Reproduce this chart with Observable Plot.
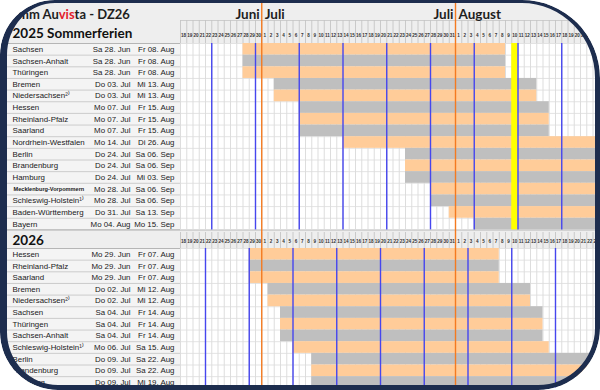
<!DOCTYPE html>
<html><head><meta charset="utf-8">
<script src="https://cdn.jsdelivr.net/npm/d3@7"></script>
<script src="https://cdn.jsdelivr.net/npm/@observablehq/plot@0.6"></script>
<style>
html,body{margin:0;padding:0;background:#fff;}
#wrap{position:relative;width:600px;height:390px;overflow:hidden;border-radius:55px 78px 62px 58px;background:#fff;}
#frame{position:absolute;left:0;top:0;width:600px;height:390px;box-sizing:border-box;border-style:solid;border-color:#1d2d4e;border-width:3px 5px 5px 7px;border-radius:55px 78px 62px 58px;pointer-events:none;}
#title{position:absolute;left:18px;top:7px;font:bold 13px/14px Lato, sans-serif;color:#1e1e1e;white-space:nowrap;}
#title .r{color:#e3212b;}
svg{display:block;}
</style></head><body>
<div id="wrap"><div id="chart"></div><div id="title">mm Au<span class="r">vis</span>ta - DZ26</div><div id="frame"></div></div>
<script>
// ---------- data ----------
const states2025 = ["Sachsen","Sachsen-Anhalt","Thüringen","Bremen","Niedersachsen²⁾","Hessen","Rheinland-Pfalz","Saarland","Nordrhein-Westfalen","Berlin","Brandenburg","Hamburg","Mecklenburg-Vorpommern","Schleswig-Holstein¹⁾","Baden-Württemberg","Bayern"];
const start2025 = ["2025-06-28","2025-06-28","2025-06-28","2025-07-03","2025-07-03","2025-07-07","2025-07-07","2025-07-07","2025-07-14","2025-07-24","2025-07-24","2025-07-24","2025-07-28","2025-07-28","2025-07-31","2025-08-04"];
const end2025 = ["2025-08-08","2025-08-08","2025-08-08","2025-08-13","2025-08-13","2025-08-15","2025-08-15","2025-08-15","2025-08-26","2025-09-06","2025-09-06","2025-09-03","2025-09-06","2025-09-06","2025-09-13","2025-09-15"];
const states2026 = ["Hessen","Rheinland-Pfalz","Saarland","Bremen","Niedersachsen²⁾","Sachsen","Thüringen","Sachsen-Anhalt","Schleswig-Holstein¹⁾","Berlin","Brandenburg","Hamburg"];
const start2026 = ["2026-06-29","2026-06-29","2026-06-29","2026-07-02","2026-07-02","2026-07-04","2026-07-04","2026-07-04","2026-07-06","2026-07-09","2026-07-09","2026-07-09"];
const end2026 = ["2026-08-07","2026-08-07","2026-08-07","2026-08-12","2026-08-12","2026-08-14","2026-08-14","2026-08-14","2026-08-15","2026-08-22","2026-08-22","2026-08-19"];
const mondays2025 = ["2025-06-23","2025-06-30","2025-07-07","2025-07-14","2025-07-21","2025-07-28","2025-08-04","2025-08-11","2025-08-18"];
const mondays2026 = ["2026-06-22","2026-06-29","2026-07-06","2026-07-13","2026-07-20","2026-07-27","2026-08-03","2026-08-10","2026-08-17"];
const monthStarts = ["2025-07-01","2025-08-01"];
const monthBefore = ["Juni","Juli"];
const monthAfter = ["Juli","August"];
const today2025 = "2025-08-10";
const axisFirst = "2025-06-18", axisLast = "2025-08-23";
const weekdayNames = ["So","Mo","Di","Mi","Do","Fr","Sa"];
const monthNames = ["Jan","Feb","Mär","Apr","Mai","Jun","Jul","Aug","Sep","Okt","Nov","Dez"];
const title2025 = "2025 Sommerferien", title2026 = "2026";
const smallNames = ["Mecklenburg-Vorpommern"];

// ---------- helpers ----------
const toDate = s => new Date(s + "T00:00:00Z");
const sday = s => { const d = toDate(s); return Math.round((d - Date.UTC(d.getUTCFullYear(), 5, 1)) / 864e5) + 1; };
const fmt = s => { const d = toDate(s); return weekdayNames[d.getUTCDay()] + " " + String(d.getUTCDate()).padStart(2, "0") + ". " + monthNames[d.getUTCMonth()]; };
const dom = v => { const d = new Date(Date.UTC(2025, 5, 1) + (v - 1) * 864e5); return d.getUTCDate(); };

// ---------- layout ----------
const W = 600, H = 390, ROWH = 11.65;
const py = px => px / ROWH;
const YMAX = py(H);
const HDR25 = py(20), TOP25 = py(43);
const END25 = TOP25 + states2025.length;
const HDR26 = END25, HDR26L = py(232), TOP26 = py(248);
const firstDay = sday(axisFirst), lastDay = sday(axisLast);
const PXDAY = 6.25, X0 = 180;

const days = d3.range(firstDay, lastDay + 2);
const rows = [];
states2025.forEach((s, i) => rows.push({state: s, s: start2025[i], e: end2025[i], i, top: TOP25 + i}));
states2026.forEach((s, i) => rows.push({state: s, s: start2026[i], e: end2026[i], i, top: TOP26 + i}));
rows.forEach(r => { r.x1 = sday(r.s); r.x2 = sday(r.e) + 1; r.y1 = r.top; r.y2 = r.top + 1; r.ym = r.top + 0.5;
  r.fill = r.i % 2 === 0 ? "#ffcc99" : "#bfbfbf"; r.sl = fmt(r.s); r.el = fmt(r.e); r.small = smallNames.includes(r.state); });

const rowEdges = [];
for (let i = 0; i <= states2025.length; i++) rowEdges.push(TOP25 + i);
for (let i = 0; i <= states2026.length; i++) rowEdges.push(TOP26 + i);

const sections = [{y1: TOP25, y2: END25}, {y1: TOP26, y2: YMAX}];
const headers = [{y1: 0, y2: TOP25}, {y1: HDR26, y2: TOP26}];
const dayGrid = [];
days.forEach(v => {
  dayGrid.push({v, y1: TOP25, y2: END25, c: "#d9d9d9"});
  dayGrid.push({v, y1: TOP26, y2: YMAX, c: "#d9d9d9"});
  dayGrid.push({v, y1: HDR25, y2: TOP25, c: "#c4c4c4"});
  dayGrid.push({v, y1: HDR26L, y2: TOP26, c: "#c4c4c4"});
});
const dayLabels = [];
d3.range(firstDay, lastDay + 1).forEach(v => {
  dayLabels.push({v, t: String(dom(v)), y: py(35.5)});
  dayLabels.push({v, t: String(dom(v)), y: py(241)});
});
const mondayRules = [
  ...mondays2025.map(d => ({v: sday(d), y1: TOP25, y2: END25})),
  ...mondays2026.map(d => ({v: sday(d), y1: TOP26, y2: YMAX}))
];
const months = monthStarts.map((d, i) => ({v: sday(d), before: monthBefore[i], after: monthAfter[i]}));
const todayBand = [{x1: sday(today2025), x2: sday(today2025) + 1, y1: TOP25, y2: END25}];

const gx1 = () => firstDay, gx2 = () => lastDay + 1;
const tableFont = "Liberation Sans, Arial, sans-serif";

const chart = Plot.plot({
  width: W, height: H, margin: 0,
  x: {type: "linear", domain: [firstDay, lastDay + 1], range: [X0, X0 + (lastDay + 1 - firstDay) * PXDAY], axis: null},
  y: {type: "linear", domain: [0, YMAX], range: [0, H], axis: null},
  style: {background: "transparent", fontFamily: tableFont, overflow: "hidden"},
  marks: [
    Plot.rect([{y1: 0, y2: YMAX}], {y1: "y1", y2: "y2", fill: "#f4f4f4"}),
    Plot.rect(headers, {y1: "y1", y2: "y2", fill: "#eeeeee"}),
    Plot.ruleY(rowEdges, {stroke: "#c2c2c2", strokeWidth: 0.8}),
    Plot.ruleY([HDR26, TOP26, TOP25], {stroke: "#b5b5b5", strokeWidth: 1}),
    Plot.rect(sections, {x1: gx1, x2: gx2, y1: "y1", y2: "y2", fill: "white"}),
    Plot.ruleX(dayGrid, {x: "v", y1: "y1", y2: "y2", stroke: "c", strokeWidth: 0.9}),
    Plot.ruleY(rowEdges, {x1: gx1, x2: gx2, stroke: "#dcdcdc", strokeWidth: 0.8}),
    Plot.ruleY([HDR25], {x1: gx1, x2: gx2, stroke: "#c4c4c4", strokeWidth: 0.8}),
    Plot.rect(rows, {x1: "x1", x2: "x2", y1: "y1", y2: "y2", fill: "fill"}),
    Plot.rect(todayBand, {x1: "x1", x2: "x2", y1: "y1", y2: "y2", fill: "#ffff00"}),
    Plot.ruleX(mondayRules, {x: "v", y1: "y1", y2: "y2", stroke: "#4646ee", strokeWidth: 1.4}),
    Plot.ruleX(months, {x: "v", y1: () => 0, y2: () => YMAX, stroke: "#f47a20", strokeWidth: 1.4}),
    Plot.text(dayLabels, {x: d => d.v + 0.5, y: "y", text: "t", fontSize: 4.6, fontWeight: "bold", fill: "#333"}),
    Plot.text(months, {x: "v", y: () => py(14), text: "before", textAnchor: "end", dx: -2, fontSize: 13.5, fontWeight: "bold", fontFamily: "Lato, sans-serif", fill: "#1e1e1e"}),
    Plot.text(months, {x: "v", y: () => py(14), text: "after", textAnchor: "start", dx: 3, fontSize: 13.5, fontWeight: "bold", fontFamily: "Lato, sans-serif", fill: "#1e1e1e"}),
    Plot.text([title2025], {frameAnchor: "left", dx: 12, y: () => py(33.5), text: d => d, textAnchor: "start", fontSize: 13.5, fontWeight: "bold", fontFamily: "Lato, sans-serif", fill: "#111"}),
    Plot.text([title2026], {frameAnchor: "left", dx: 12, y: () => py(240), text: d => d, textAnchor: "start", fontSize: 13.5, fontWeight: "bold", fontFamily: "Lato, sans-serif", fill: "#111"}),
    Plot.text(rows.filter(r => !r.small), {frameAnchor: "left", dx: 12, y: "ym", text: "state", textAnchor: "start", fontSize: 7.9, fill: "#1a1a1a"}),
    Plot.text(rows.filter(r => r.small), {frameAnchor: "left", dx: 13, y: "ym", text: "state", textAnchor: "start", fontSize: 5.6, fontWeight: "bold", fill: "#1a1a1a"}),
    Plot.text(rows, {frameAnchor: "left", dx: 130, y: "ym", text: "sl", textAnchor: "end", fontSize: 7.9, fill: "#1a1a1a"}),
    Plot.text(rows, {frameAnchor: "left", dx: 174, y: "ym", text: "el", textAnchor: "end", fontSize: 7.9, fill: "#1a1a1a"})
  ]
});
document.getElementById("chart").appendChild(chart);
</script>
</body></html>
